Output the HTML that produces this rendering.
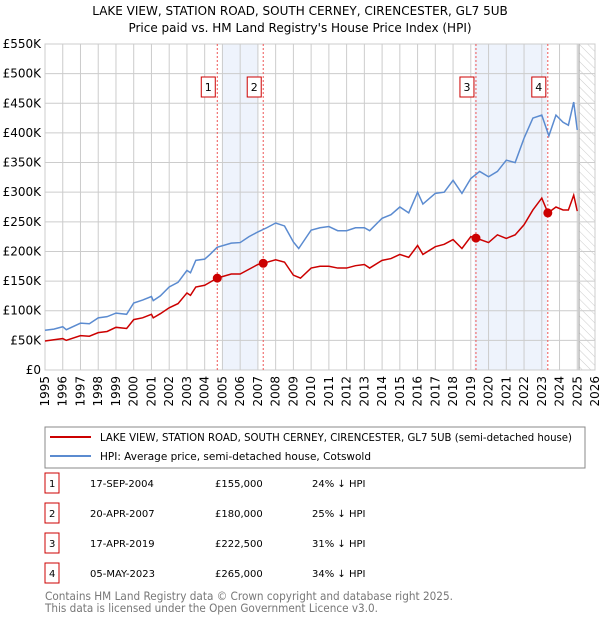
<!DOCTYPE html>
<html><head><meta charset="utf-8"><style>
body{margin:0;background:#fff;font-family:"Liberation Sans","DejaVu Sans",sans-serif;}
svg text{font-family:"DejaVu Sans","Liberation Sans",sans-serif;}
</style></head><body>
<svg id="c" width="600" height="620" xmlns="http://www.w3.org/2000/svg">
<text x="300" y="15" text-anchor="middle" font-size="12">LAKE VIEW, STATION ROAD, SOUTH CERNEY, CIRENCESTER, GL7 5UB</text>
<text x="300" y="32" text-anchor="middle" font-size="12">Price paid vs. HM Land Registry's House Price Index (HPI)</text>
<defs><pattern id="hatch" width="6" height="6" patternUnits="userSpaceOnUse" patternTransform="rotate(-45)"><line x1="0" y1="0" x2="0" y2="6" stroke="#ccc" stroke-width="1"/></pattern></defs>
<g id="plot"></g>
<rect x="45" y="427" width="540" height="41" fill="#fff" stroke="#888"/>
<line x1="50" y1="437" x2="91" y2="437" stroke="#cc0000" stroke-width="2"/>
<text x="100" y="441" font-size="10.5" textLength="472" lengthAdjust="spacingAndGlyphs">LAKE VIEW, STATION ROAD, SOUTH CERNEY, CIRENCESTER, GL7 5UB (semi-detached house)</text>
<line x1="50" y1="456" x2="91" y2="456" stroke="#5b8bd0" stroke-width="2"/>
<text x="100" y="460" font-size="10.5" textLength="271" lengthAdjust="spacingAndGlyphs">HPI: Average price, semi-detached house, Cotswold</text>
<g id="table" font-size="10"></g>
<text x="45" y="600" font-size="11.5" fill="#777" textLength="408" lengthAdjust="spacingAndGlyphs">Contains HM Land Registry data © Crown copyright and database right 2025.</text>
<text x="45" y="612" font-size="11.5" fill="#777" textLength="333" lengthAdjust="spacingAndGlyphs">This data is licensed under the Open Government Licence v3.0.</text>
</svg>
<script>
const hpiYears=[1995,1995.5,1996,1996.2,1997,1997.5,1998,1998.5,1999,1999.6,2000,2000.5,2001,2001.1,2001.5,2002,2002.5,2003,2003.2,2003.5,2004,2004.3,2004.7,2005.5,2006,2006.5,2007,2007.5,2008,2008.5,2009,2009.3,2010,2010.5,2011,2011.5,2012,2012.5,2013,2013.3,2014,2014.5,2015,2015.5,2016,2016.3,2017,2017.5,2018,2018.5,2019,2019.5,2020,2020.5,2021,2021.5,2022,2022.5,2023,2023.4,2023.8,2024.2,2024.5,2024.8,2025.0];
const hpiValues=[67,69,73,68,79,78,88,90,96,94,113,118,124,117,125,140,148,168,164,185,187,195,207,214,215,225,233,240,248,243,216,205,236,240,242,235,235,240,240,235,256,262,275,265,300,280,298,300,320,298,323,335,326,335,354,350,391,425,430,395,430,418,413,452,405];
const ppYears=[1995,1995.5,1996,1996.2,1997,1997.5,1998,1998.5,1999,1999.6,2000,2000.5,2001,2001.1,2001.5,2002,2002.5,2003,2003.2,2003.5,2004,2004.3,2004.7,2005.5,2006,2006.5,2007,2007.3,2008,2008.5,2009,2009.4,2010,2010.5,2011,2011.5,2012,2012.5,2013,2013.3,2014,2014.5,2015,2015.5,2016,2016.3,2017,2017.5,2018,2018.5,2019,2019.3,2020,2020.5,2021,2021.5,2022,2022.5,2023,2023.35,2023.8,2024.2,2024.5,2024.8,2025.0];
const ppValues=[49,51,53,50,58,57,63,65,72,70,85,88,94,88,95,105,112,130,126,140,143,148,155,162,162,170,178,180,186,182,160,155,172,175,175,172,172,176,178,172,185,188,195,190,210,195,208,212,220,205,225,222.5,215,228,222,228,245,270,290,265,275,270,270,295,268];
const yTicks=[0,50,100,150,200,250,300,350,400,450,500,550];
const xTicks=[1995,1996,1997,1998,1999,2000,2001,2002,2003,2004,2005,2006,2007,2008,2009,2010,2011,2012,2013,2014,2015,2016,2017,2018,2019,2020,2021,2022,2023,2024,2025,2026];
const saleYears=[2004.71,2007.3,2019.29,2023.34];
const saleValues=[155,180,222.5,265];
const saleLabels=["1","2","3","4"];
const saleDates=["17-SEP-2004","20-APR-2007","17-APR-2019","05-MAY-2023"];
const salePrices=["£155,000","£180,000","£222,500","£265,000"];
const salePct=["24% ↓ HPI","25% ↓ HPI","31% ↓ HPI","34% ↓ HPI"];
const shadeStarts=[2005.0,2019.2];
const shadeEnds=[2007.0,2023.3];
const X0=45,X1=595,Y0=370,Y1=44;
const x=v=>X0+(v-1995)/(2026-1995)*(X1-X0);
const y=v=>Y0-v/550*(Y0-Y1);
const NS="http://www.w3.org/2000/svg";
const g=document.getElementById('plot');
function mk(tag,attrs,parent){const e=document.createElementNS(NS,tag);for(const k in attrs)e.setAttribute(k,attrs[k]);(parent||g).appendChild(e);return e;}
shadeStarts.forEach((s,i)=>{const r=mk('rect',{x:x(s),y:Y1,width:x(shadeEnds[i])-x(s),height:Y0-Y1,fill:'#eef3fc'});

});
const h=mk('rect',{x:x(2025.1),y:Y1,width:X1-x(2025.1),height:Y0-Y1,fill:'url(#hatch)'});


mk('line',{x1:x(2025.1),y1:Y1,x2:x(2025.1),y2:Y0,stroke:'#999','stroke-width':1});
yTicks.forEach(t=>{mk('line',{x1:X0,y1:y(t),x2:X1,y2:y(t),stroke:'#ccc'});
const tx=mk('text',{x:X0-4,y:y(t)+4,'text-anchor':'end','font-size':12});tx.textContent=t===0?'£0':'£'+t+'K';

});
xTicks.forEach(t=>{mk('line',{x1:x(t),y1:Y1,x2:x(t),y2:Y0,stroke:'#ccc'});
const tx=mk('text',{x:0,y:0,'text-anchor':'end','font-size':12,transform:`translate(${x(t)+4},${Y0+6}) rotate(-90)`});tx.textContent=t;

});
mk('rect',{x:X0,y:Y1,width:X1-X0,height:Y0-Y1,fill:'none',stroke:'#ccc'});
saleYears.forEach((s,i)=>{mk('line',{x1:x(s),y1:Y1,x2:x(s),y2:Y0,stroke:'#ee5555','stroke-dasharray':'2,2','stroke-width':1});
const bx=mk('rect',{x:x(s)-16,y:77,width:14,height:20,fill:'#fff',stroke:'#cc0000'});


const t=mk('text',{x:x(s)-9,y:91,'text-anchor':'middle','font-size':11});t.textContent=saleLabels[i];});
function line(xs,vs,col,name){const p=mk('polyline',{points:xs.map((v,i)=>x(v)+','+y(vs[i])).join(' '),fill:'none',stroke:col,'stroke-width':1.5});

}
line(hpiYears,hpiValues,'#5b8bd0','hpi-line');
line(ppYears,ppValues,'#cc0000','property-price-line');
saleYears.forEach((s,i)=>{const c=mk('circle',{cx:x(s),cy:y(saleValues[i]),r:4.5,fill:'#cc0000'});

});
const tb=document.getElementById('table');
saleLabels.forEach((l,i)=>{const ry=483+i*30;
const b=mk('rect',{x:45,y:ry-10,width:14,height:20,fill:'#fff',stroke:'#cc0000'},tb);


[[l,49],[saleDates[i],90],[salePrices[i],215],[salePct[i],312]].forEach(([s,xx],j)=>{const t=mk('text',{x:xx,y:ry+4},tb);t.textContent=s;

});});
</script>
</body></html>
